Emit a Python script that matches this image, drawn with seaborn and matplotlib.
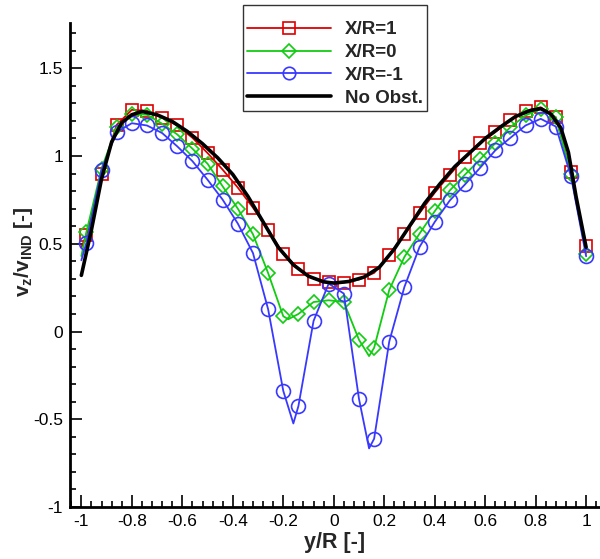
import numpy as np
import pandas as pd
import matplotlib
matplotlib.use("Agg")
import matplotlib.pyplot as plt
import seaborn as sns
from matplotlib.ticker import MultipleLocator
from matplotlib.lines import Line2D

# ---------------- data ----------------
x_r1 = [-1.00, -0.98, -0.92, -0.86, -0.80, -0.74, -0.68, -0.62, -0.56, -0.50, -0.44, -0.38,
        -0.32, -0.26, -0.20, -0.14, -0.08, -0.02, 0.04, 0.10, 0.16, 0.22, 0.28, 0.34,
        0.40, 0.46, 0.52, 0.58, 0.64, 0.70, 0.76, 0.82, 0.88, 0.94, 1.00]
y_r1 = [0.48, 0.55, 0.90, 1.178, 1.263, 1.258, 1.218, 1.174, 1.104, 1.017, 0.922, 0.82,
        0.706, 0.58, 0.444, 0.359, 0.302, 0.28, 0.279, 0.296, 0.334, 0.437, 0.554, 0.675,
        0.791, 0.894, 0.994, 1.076, 1.136, 1.207, 1.256, 1.278, 1.22, 0.91, 0.487]

x_r0 = [-1.00, -0.98, -0.92, -0.86, -0.80, -0.74, -0.68, -0.62, -0.56, -0.50, -0.44, -0.38,
        -0.32, -0.26, -0.20, -0.18, -0.14, -0.08, -0.02, 0.04, 0.10, 0.14, 0.16, 0.22, 0.28,
        0.34, 0.40, 0.46, 0.52, 0.58, 0.64, 0.70, 0.76, 0.82, 0.88, 0.94, 1.00]
y_r0 = [0.43, 0.567, 0.928, 1.164, 1.241, 1.235, 1.184, 1.123, 1.042, 0.956, 0.827, 0.70,
        0.554, 0.333, 0.087, 0.07, 0.10, 0.168, 0.178, 0.168, -0.047, -0.14, -0.093, 0.237, 0.425,
        0.558, 0.685, 0.804, 0.894, 0.981, 1.073, 1.165, 1.231, 1.269, 1.221, 0.899, 0.444]

x_rm1 = [-1.00, -0.98, -0.92, -0.86, -0.80, -0.74, -0.68, -0.62, -0.56, -0.50, -0.44, -0.38,
         -0.32, -0.26, -0.20, -0.16, -0.14, -0.08, -0.02, 0.04, 0.10, 0.14, 0.16, 0.22, 0.28,
         0.34, 0.40, 0.46, 0.52, 0.58, 0.64, 0.70, 0.76, 0.82, 0.88, 0.94, 1.00]
y_rm1 = [0.406, 0.506, 0.922, 1.136, 1.187, 1.174, 1.131, 1.055, 0.971, 0.865, 0.751, 0.615,
         0.447, 0.127, -0.338, -0.524, -0.425, 0.06, 0.273, 0.216, -0.384, -0.666, -0.611, -0.057, 0.254,
         0.482, 0.624, 0.747, 0.838, 0.933, 1.032, 1.104, 1.174, 1.212, 1.168, 0.884, 0.429]

x_no = [-1.00, -0.96, -0.92, -0.88, -0.84, -0.80, -0.76, -0.70, -0.64, -0.58, -0.52, -0.46,
        -0.40, -0.34, -0.28, -0.22, -0.16, -0.10, -0.04, 0.00, 0.06, 0.12, 0.18, 0.24, 0.30,
        0.36, 0.42, 0.48, 0.54, 0.60, 0.66, 0.72, 0.78, 0.82, 0.86, 0.90, 0.93, 0.96, 1.00]
y_no = [0.32, 0.58, 0.87, 1.08, 1.19, 1.235, 1.254, 1.235, 1.197, 1.14, 1.07, 0.99,
        0.895, 0.77, 0.625, 0.48, 0.38, 0.315, 0.283, 0.276, 0.285, 0.31, 0.365, 0.47, 0.60,
        0.73, 0.84, 0.94, 1.02, 1.10, 1.165, 1.225, 1.26, 1.27, 1.24, 1.16, 1.02, 0.77, 0.48]

labels = ["X/R=1", "X/R=0", "X/R=-1", "No Obst."]
x_ticks = [-1, -0.8, -0.6, -0.4, -0.2, 0, 0.2, 0.4, 0.6, 0.8, 1]
x_ticklabels = ["-1", "-0.8", "-0.6", "-0.4", "-0.2", "0", "0.2", "0.4", "0.6", "0.8", "1"]
y_ticks = [-1, -0.5, 0, 0.5, 1, 1.5]
y_ticklabels = ["-1", "-0.5", "0", "0.5", "1", "1.5"]

# ---------------- style ----------------
sns.set_style("ticks")
plt.rcParams["font.family"] = ["Liberation Sans", "DejaVu Sans"]
plt.rcParams["mathtext.fontset"] = "custom"
plt.rcParams["mathtext.rm"] = "Liberation Sans"
plt.rcParams["mathtext.bf"] = "Liberation Sans:bold"
plt.rcParams["mathtext.it"] = "Liberation Sans:italic"

RED = "#dd0000"
GREEN = "#11cc11"
BLUE = "#3838ff"

fig = plt.figure(figsize=(6.0, 5.59), dpi=100)
ax = fig.add_axes([70 / 600, 52 / 559, 530 / 600, 484 / 559])


def mark_idx(xs):
    # markers are drawn on the regular measurement stations only
    out = []
    for i, v in enumerate(xs):
        k = (v + 0.98) / 0.06
        if v > -0.99 and abs(k - round(k)) < 1e-6:
            out.append(i)
    return out


series = [
    (x_r1, y_r1, RED, "s", 8.0),
    (x_r0, y_r0, GREEN, "D", 7.0),
    (x_rm1, y_rm1, BLUE, "o", 10.0),
]
for xs, ys, col, mk, ms in series:
    df = pd.DataFrame({"x": xs, "y": ys})
    sns.lineplot(data=df, x="x", y="y", ax=ax, color=col, linewidth=1.3,
                 marker=mk, markersize=ms, markerfacecolor="none",
                 markeredgecolor=col, markeredgewidth=1.2,
                 markevery=mark_idx(xs), sort=False, estimator=None, zorder=3)

df_no = pd.DataFrame({"x": x_no, "y": y_no})
sns.lineplot(data=df_no, x="x", y="y", ax=ax, color="black", linewidth=2.6,
             sort=False, estimator=None, zorder=4)

ax.set_xlim(-1.045, 1.055)
ax.set_ylim(-1.0, 1.758)

ax.set_xticks(x_ticks)
ax.set_xticklabels(x_ticklabels)
ax.set_yticks(y_ticks)
ax.set_yticklabels(y_ticklabels)
ax.xaxis.set_minor_locator(MultipleLocator(0.04))
ax.yaxis.set_minor_locator(MultipleLocator(0.1))

ax.tick_params(which="both", direction="in", top=False, right=False,
               width=1.2, labelsize=12.5, colors="black")
ax.tick_params(which="major", length=8.5, pad=5)
ax.tick_params(which="minor", length=4.5)

for side in ["top", "right"]:
    ax.spines[side].set_visible(False)
for side in ["left", "bottom"]:
    ax.spines[side].set_linewidth(2.0)
    ax.spines[side].set_color("black")

ax.set_xlabel("y/R [-]", fontsize=15.5, fontweight="bold", labelpad=2)
ax.set_ylabel(r"$\mathbf{v_z/v_{IND}}$ [-]", fontsize=15, fontweight="bold")
ax.yaxis.set_label_coords(-0.066, (507 - 252) / 484)

handles = [
    Line2D([], [], color=RED, lw=1.3, marker="s", ms=8, mfc="none", mec=RED, mew=1.2),
    Line2D([], [], color=GREEN, lw=1.3, marker="D", ms=7, mfc="none", mec=GREEN, mew=1.2),
    Line2D([], [], color=BLUE, lw=1.3, marker="o", ms=9, mfc="none", mec=BLUE, mew=1.2),
    Line2D([], [], color="black", lw=2.6),
]
leg = ax.legend(handles, labels, loc="upper left",
                bbox_to_anchor=(243 / 600, 1 - 5 / 559), bbox_transform=fig.transFigure,
                prop={"weight": "bold", "size": 13.5}, handlelength=4.5, handletextpad=0.75,
                labelspacing=0.3, borderpad=0.2, fancybox=False, frameon=True,
                borderaxespad=0, title=" ", title_fontsize=5)
leg.get_frame().set_edgecolor("black")
leg.get_frame().set_linewidth(1.0)
leg.set_zorder(10)

fig.savefig("out.png", dpi=100)
